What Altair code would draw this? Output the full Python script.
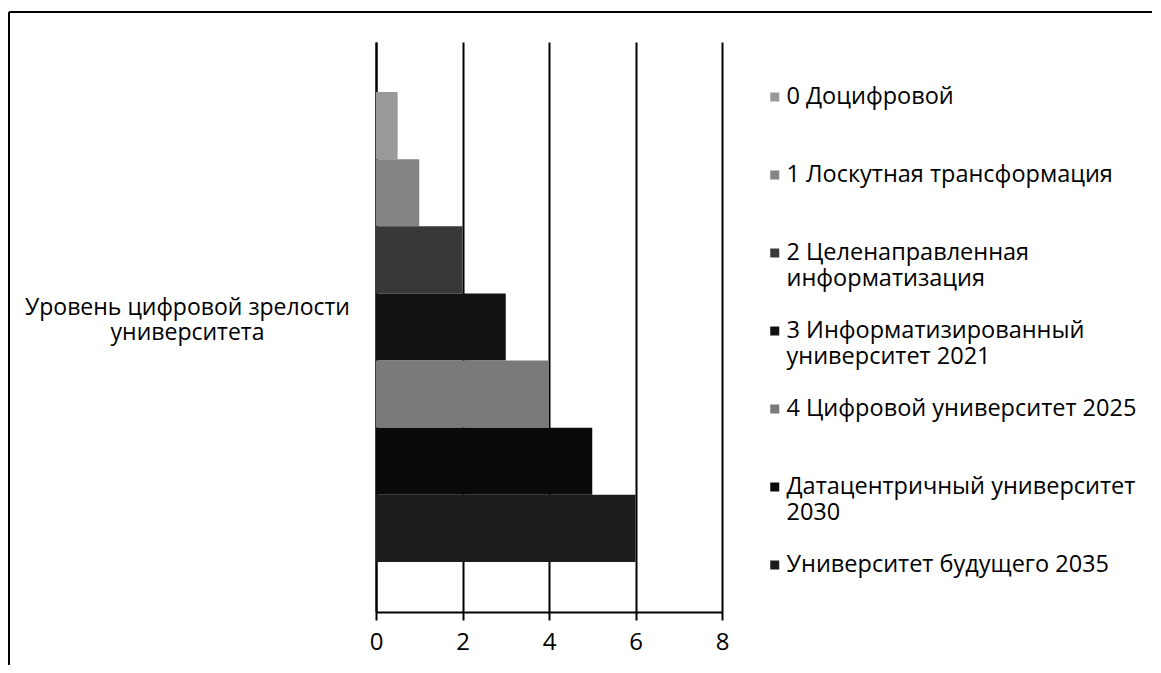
import altair as alt
import pandas as pd

category = "Уровень цифровой зрелости университета"
category_lines = ["Уровень цифровой зрелости", "университета"]

series = [
    "0 Доцифровой",
    "1 Лоскутная трансформация",
    "2 Целенаправленная информатизация",
    "3 Информатизированный университет 2021",
    "4 Цифровой университет 2025",
    "Датацентричный университет 2030",
    "Университет будущего 2035",
]
values = [0.5, 1, 2, 3, 4, 5, 6]
colors = ["#999999", "#858585", "#383838", "#121212", "#7a7a7a", "#0a0a0a", "#1c1c1c"]

legend_lines = {
    "2 Целенаправленная информатизация": ["2 Целенаправленная", "информатизация"],
    "3 Информатизированный университет 2021": ["3 Информатизированный", "университет 2021"],
    "Датацентричный университет 2030": ["Датацентричный университет", "2030"],
}
x_ticks = [0, 2, 4, 6, 8]

FONT = "Open Sans"


def arr(lines):
    return "[" + ", ".join("'" + s + "'" for s in lines) + "]"


legend_expr = "datum.label"
for k, v in legend_lines.items():
    legend_expr = f"datum.label == '{k}' ? {arr(v)} : ({legend_expr})"

cat_expr = f"datum.label == '{category}' ? {arr(category_lines)} : datum.label"

df = pd.DataFrame({"category": [category] * len(series), "series": series, "value": values})

bars = alt.Chart(df).mark_bar().encode(
    x=alt.X(
        "value:Q",
        scale=alt.Scale(domain=[0, 8], nice=False),
        axis=alt.Axis(
            values=x_ticks, title=None, grid=True, gridColor="black", gridWidth=2,
            domainColor="black", domainWidth=2, tickColor="black", tickWidth=2, tickSize=8,
            labelFont=FONT, labelFontSize=24, labelColor="black", labelPadding=10,
            labelFlush=False,
        ),
    ),
    y=alt.Y(
        "category:N",
        scale=alt.Scale(paddingInner=0, paddingOuter=0.1064),
        axis=alt.Axis(
            title=None, ticks=False, tickSize=0, domainColor="black", domainWidth=2,
            labelExpr=cat_expr, labelAlign="center", labelBaseline="middle", labelPadding=189,
            labelFont=FONT, labelFontSize=23, labelColor="black", labelLineHeight=25,
            labelOffset=-19, labelLimit=0,
        ),
    ),
    yOffset=alt.YOffset("series:N", sort=series, scale=alt.Scale(paddingInner=0, paddingOuter=0)),
    color=alt.Color(
        "series:N", sort=series,
        scale=alt.Scale(domain=series, range=colors),
        legend=alt.Legend(
            title=None, orient="none", legendX=387, legendY=16, clipHeight=78, rowPadding=0,
            symbolType="square", symbolSize=81, symbolStrokeWidth=0,
            labelFont=FONT, labelFontSize=23.5, labelColor="black", labelLimit=0,
            labelExpr=legend_expr, labelOffset=0,
        ),
    ),
)

frame = pd.DataFrame({"k": [0]})
top_line = alt.Chart(frame).mark_rule(color="black", strokeWidth=2).encode(
    x=alt.value(-367), x2=alt.value(800), y=alt.value(-30)
)
left_line = alt.Chart(frame).mark_rule(color="black", strokeWidth=2).encode(
    x=alt.value(-367), y=alt.value(-30), y2=alt.value(640)
)

chart = alt.layer(bars, top_line, left_line).properties(
    width=346, height=570,
    autosize=alt.AutoSizeParams(type="none"),
    padding={"left": 368, "top": 34, "right": 430, "bottom": 53},
    background="white",
).configure_view(stroke=None)

chart.save("out.html", embed_options={"renderer": "svg", "actions": False})
